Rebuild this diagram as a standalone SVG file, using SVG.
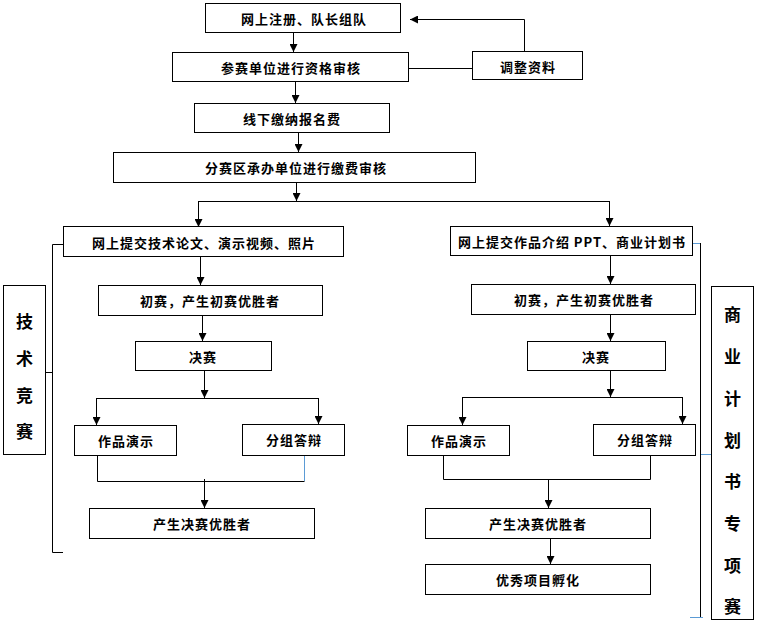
<svg xmlns="http://www.w3.org/2000/svg" width="757" height="624" viewBox="0 0 757 624">
<style>
.box{fill:#fff;stroke:#000;stroke-width:1}
.t{font-family:"Noto Sans CJK SC","Noto Sans CJK JP",sans-serif;font-size:13px;font-weight:bold;fill:#000;text-anchor:middle;dominant-baseline:central;letter-spacing:1px}
.v{font-family:"Noto Sans CJK SC","Noto Sans CJK JP",sans-serif;font-size:17px;font-weight:bold;fill:#000;text-anchor:middle;dominant-baseline:central}
.c{fill:none;stroke:#000;stroke-width:1}
.b{fill:none;stroke:#5B9BD5;stroke-width:1}
.a{marker-end:url(#ah)}
</style>
<defs>
<marker id="ah" viewBox="0 0 10 10" refX="10" refY="5" markerWidth="9" markerHeight="8" markerUnits="userSpaceOnUse" orient="auto">
<path d="M0,0 L10,5 L0,10 z" fill="#000"/>
</marker>
</defs>
<g id="connectors">
<path class="c a" d="M293.5,33 V52"/>
<path class="c a" d="M295.5,82 V103"/>
<path class="c a" d="M298.5,133 V152"/>
<path class="c a" d="M296.5,183 V201"/>
<path class="c" d="M198.5,201.5 H609.5"/>
<path class="c a" d="M198.5,201 V227"/>
<path class="c a" d="M609.5,201 V226"/>
<path class="c" d="M408,68.5 H472"/>
<path class="c a" d="M524.5,51 V19.5 H410"/>
<path class="c a" d="M200.5,257 V285"/>
<path class="c a" d="M202.5,316 V341"/>
<path class="c a" d="M204.5,371 V398"/>
<path class="c" d="M96.5,398.5 H318.5"/>
<path class="c a" d="M96.5,398 V425"/>
<path class="c a" d="M318.5,398 V424"/>
<path class="c" d="M97.5,456 V481.5 H304.5"/>
<path class="b" d="M304.5,456 V481"/>
<path class="c a" d="M204.5,479 V508"/>
<path class="c" d="M63,244.5 H52.5 V552.5 H63"/>
<path class="c" d="M46,372.5 H52.5"/>
<path class="c a" d="M610.5,256 V284"/>
<path class="c a" d="M610.5,315 V341"/>
<path class="c a" d="M610.5,371 V397"/>
<path class="c" d="M462.5,397.5 H682.5"/>
<path class="c a" d="M462.5,397 V425"/>
<path class="c a" d="M682.5,397 V424"/>
<path class="c" d="M443.5,456 V479.5 H650.5 V456"/>
<path class="c a" d="M548.5,479 V508"/>
<path class="c a" d="M550.5,539 V564"/>
<path class="b" d="M692,243.5 H701"/>
<path class="c" d="M700.5,243 V618"/>
<path class="b" d="M701,454.5 H712"/>
<path class="b" d="M690,617.5 H703"/>
</g>
<g id="n1"><rect class="box" x="205.5" y="3.5" width="195" height="29"/><text class="t" x="304" y="18">网上注册、队长组队</text></g>
<g id="n2"><rect class="box" x="172.5" y="52.5" width="236" height="29"/><text class="t" x="291" y="67">参赛单位进行资格审核</text></g>
<g id="n3"><rect class="box" x="472.5" y="51.5" width="110" height="28"/><text class="t" x="528" y="66">调整资料</text></g>
<g id="n4"><rect class="box" x="194.5" y="103.5" width="195" height="29"/><text class="t" x="292" y="118">线下缴纳报名费</text></g>
<g id="n5"><rect class="box" x="113.5" y="152.5" width="362" height="30"/><text class="t" x="296" y="167">分赛区承办单位进行缴费审核</text></g>
<g id="n6"><rect class="box" x="63.5" y="226.5" width="280" height="30"/><text class="t" x="204" y="242">网上提交技术论文、演示视频、照片</text></g>
<g id="n7"><rect class="box" x="98.5" y="285.5" width="224" height="30"/><text class="t" x="210" y="300">初赛，产生初赛优胜者</text></g>
<g id="n8"><rect class="box" x="135.5" y="341.5" width="136" height="29"/><text class="t" x="203" y="356">决赛</text></g>
<g id="n9"><rect class="box" x="74.5" y="425.5" width="102" height="30"/><text class="t" x="126" y="440">作品演示</text></g>
<g id="n10"><rect class="box" x="242.5" y="424.5" width="102" height="31"/><text class="t" x="294" y="439">分组答辩</text></g>
<g id="n11"><rect class="box" x="89.5" y="508.5" width="225" height="30"/><text class="t" x="202" y="523">产生决赛优胜者</text></g>
<g id="n12"><rect class="box" x="3.5" y="285.5" width="42" height="169"/>
<text class="v" x="24.5" y="320">技</text><text class="v" x="24.5" y="357">术</text><text class="v" x="24.5" y="394">竞</text><text class="v" x="24.5" y="430">赛</text></g>
<g id="n13"><rect class="box" x="450.5" y="226.5" width="242" height="29"/><text class="t" x="572" y="241">网上提交作品介绍 PPT、商业计划书</text></g>
<g id="n14"><rect class="box" x="471.5" y="284.5" width="224" height="30"/><text class="t" x="584" y="299">初赛，产生初赛优胜者</text></g>
<g id="n15"><rect class="box" x="527.5" y="341.5" width="138" height="29"/><text class="t" x="596" y="356">决赛</text></g>
<g id="n16"><rect class="box" x="407.5" y="425.5" width="102" height="30"/><text class="t" x="459" y="440">作品演示</text></g>
<g id="n17"><rect class="box" x="593.5" y="424.5" width="102" height="31"/><text class="t" x="645" y="439">分组答辩</text></g>
<g id="n18"><rect class="box" x="425.5" y="508.5" width="225" height="30"/><text class="t" x="538" y="523">产生决赛优胜者</text></g>
<g id="n19"><rect class="box" x="425.5" y="564.5" width="225" height="30"/><text class="t" x="538" y="579">优秀项目孵化</text></g>
<g id="n20"><rect class="box" x="711.5" y="286.5" width="42" height="333"/>
<text class="v" x="732.5" y="313">商</text><text class="v" x="732.5" y="355">业</text><text class="v" x="732.5" y="397">计</text><text class="v" x="732.5" y="439">划</text><text class="v" x="732.5" y="480">书</text><text class="v" x="732.5" y="522">专</text><text class="v" x="732.5" y="564">项</text><text class="v" x="732.5" y="605">赛</text></g>
</svg>
